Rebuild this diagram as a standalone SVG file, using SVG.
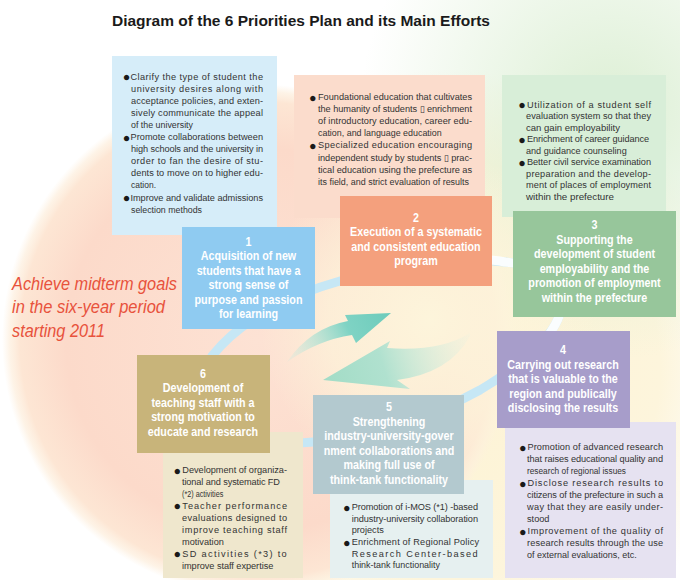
<svg xmlns="http://www.w3.org/2000/svg" width="680" height="580" viewBox="0 0 680 580">
<defs>
<style>
.h{font-family:"Liberation Sans",Arial,sans-serif;font-weight:bold;font-size:12px;fill:#fff;text-anchor:middle}
.d{font-family:"Liberation Sans",Arial,sans-serif;font-size:9.2px;fill:#333}
.b{font-family:"Liberation Sans","DejaVu Sans",sans-serif;font-size:12.5px;fill:#1a1a1a;text-anchor:middle}
.goal{font-family:"Liberation Sans",Arial,sans-serif;font-style:italic;font-size:18.5px;fill:#e8523c}
.title{font-family:"Liberation Sans",Arial,sans-serif;font-weight:bold;font-size:15.5px;fill:#1a1a1a}
</style>
<radialGradient id="peach" cx="258" cy="340" r="256" gradientUnits="userSpaceOnUse">
<stop offset="0" stop-color="#fde2d4"/>
<stop offset="0.75" stop-color="#fcdaca"/>
<stop offset="0.93" stop-color="#fde6d4"/>
<stop offset="0.97" stop-color="#fdeedc" stop-opacity="0.7"/>
<stop offset="1" stop-color="#fdf0df" stop-opacity="0"/>
</radialGradient>
<radialGradient id="green" cx="610" cy="110" r="250" gradientUnits="userSpaceOnUse">
<stop offset="0" stop-color="#dcefd4"/>
<stop offset="1" stop-color="#dcefd4" stop-opacity="0"/>
</radialGradient>
<radialGradient id="yellow" cx="450" cy="370" r="300" gradientUnits="userSpaceOnUse">
<stop offset="0" stop-color="#fdf3d3"/>
<stop offset="0.7" stop-color="#fdf5dc"/>
<stop offset="1" stop-color="#fdf5dc" stop-opacity="0"/>
</radialGradient>
<radialGradient id="glow" cx="430" cy="320" r="170" gradientUnits="userSpaceOnUse">
<stop offset="0" stop-color="#fdf6dc" stop-opacity="0.95"/>
<stop offset="0.6" stop-color="#fdf4da" stop-opacity="0.7"/>
<stop offset="1" stop-color="#fdf4da" stop-opacity="0"/>
</radialGradient>
<linearGradient id="teal" x1="287" y1="362" x2="392" y2="313" gradientUnits="userSpaceOnUse">
<stop offset="0" stop-color="#c9ece3" stop-opacity="0.2"/>
<stop offset="0.6" stop-color="#7fd3c4"/>
<stop offset="1" stop-color="#6ccbbb"/>
</linearGradient>
<linearGradient id="mint" x1="470" y1="335" x2="323" y2="380" gradientUnits="userSpaceOnUse">
<stop offset="0" stop-color="#d8f0e4" stop-opacity="0.1"/>
<stop offset="0.6" stop-color="#b0e1cf"/>
<stop offset="1" stop-color="#a2dcc6"/>
</linearGradient>
</defs>

<g id="background">
<rect x="0" y="0" width="680" height="580" fill="#ffffff"/>
<rect x="0" y="0" width="680" height="580" fill="url(#yellow)"/>
<rect x="0" y="0" width="680" height="580" fill="url(#green)"/>
<circle cx="258" cy="340" r="256" fill="url(#peach)"/>
<circle cx="430" cy="320" r="170" fill="url(#glow)"/>
</g>

<g id="title">
<text class="title" x="112" y="26" textLength="378" lengthAdjust="spacingAndGlyphs">Diagram of the 6 Priorities Plan and its Main Efforts</text>
</g>

<g id="goal">
<text class="goal" x="12" y="289.5" textLength="165" lengthAdjust="spacingAndGlyphs">Achieve midterm goals</text>
<text class="goal" x="12" y="313" textLength="153" lengthAdjust="spacingAndGlyphs">in the six-year period</text>
<text class="goal" x="12" y="336.5" textLength="93" lengthAdjust="spacingAndGlyphs">starting 2011</text>
</g>

<g id="connectors">
<path d="M212,356 C240,320 290,295 340,281 C400,264 470,258 505,262 C545,266 575,290 555,325 C540,350 510,372 480,390 C430,418 360,440 300,443 C240,446 190,400 212,356 Z" fill="none" stroke="#c6e7f5" stroke-width="9"/>
<path d="M450,261 C475,259 492,259 505,262 C545,266 575,290 555,325 C551,332 547,338 542,344" fill="none" stroke="#ffffff" stroke-opacity="0.9" stroke-width="9"/>
<path d="M287,362 Q310,328 348,321 L345,315 L391,313 L356,343 L352,335 Q318,340 287,362 Z" fill="url(#teal)"/>
<path d="M470,333 Q440,352 387,348 L390,341 L323,380 L410,389 L397,380 Q450,373 470,336 Z" fill="url(#mint)"/>
</g>

<g id="node1">
<rect x="112" y="56" width="165" height="179" fill="#d6edf9"/>
<text class="b" x="126.5" y="81">●</text>
<text class="d" x="130.5" y="79.5" textLength="132.5" lengthAdjust="spacing">Clarify the type of student the</text>
<text class="d" x="131" y="91.6" textLength="132" lengthAdjust="spacing">university desires along with</text>
<text class="d" x="131" y="103.7" textLength="132" lengthAdjust="spacing">acceptance policies, and exten-</text>
<text class="d" x="131" y="115.8" textLength="132" lengthAdjust="spacing">sively communicate the appeal</text>
<text class="d" x="131" y="127.9" textLength="62" lengthAdjust="spacingAndGlyphs">of the university</text>
<text class="b" x="126.5" y="141.5">●</text>
<text class="d" x="130.5" y="140" textLength="132.5" lengthAdjust="spacing">Promote collaborations between</text>
<text class="d" x="131" y="152.1" textLength="132" lengthAdjust="spacing">high schools and the university in</text>
<text class="d" x="131" y="164.2" textLength="132" lengthAdjust="spacing">order to fan the desire of stu-</text>
<text class="d" x="131" y="176.3" textLength="132" lengthAdjust="spacing">dents to move on to higher edu-</text>
<text class="d" x="131" y="188.4" textLength="25" lengthAdjust="spacingAndGlyphs">cation.</text>
<text class="b" x="126.5" y="202">●</text>
<text class="d" x="130.5" y="200.5" textLength="132.5" lengthAdjust="spacing">Improve and validate admissions</text>
<text class="d" x="131" y="212.6" textLength="71" lengthAdjust="spacingAndGlyphs">selection methods</text>
<rect x="182" y="227" width="133" height="102" fill="#8fcbf1"/>
<g transform="translate(248.5 0) scale(0.895 1)">
<text class="h" x="0" y="246">1</text>
<text class="h" x="0" y="260.5">Acquisition of new</text>
<text class="h" x="0" y="275">students that have a</text>
<text class="h" x="0" y="289.5">strong sense of</text>
<text class="h" x="0" y="304">purpose and passion</text>
<text class="h" x="0" y="318.5">for learning</text>
</g>
</g>

<g id="node2">
<rect x="294" y="75" width="191" height="143" fill="#fbdccc"/>
<text class="b" x="312.7" y="101.5">●</text>
<text class="d" x="318" y="100" textLength="154" lengthAdjust="spacing">Foundational education that cultivates</text>
<text class="d" x="318" y="112.1" textLength="154" lengthAdjust="spacing">the humanity of students ▯ enrichment</text>
<text class="d" x="318" y="124.2" textLength="154" lengthAdjust="spacing">of introductory education, career edu-</text>
<text class="d" x="318" y="136.3" textLength="123.7" lengthAdjust="spacingAndGlyphs">cation, and language education</text>
<text class="b" x="312.7" y="149.9">●</text>
<text class="d" x="318" y="148.4" textLength="154" lengthAdjust="spacing">Specialized education encouraging</text>
<text class="d" x="318" y="160.5" textLength="154" lengthAdjust="spacing">independent study by students ▯ prac-</text>
<text class="d" x="318" y="172.6" textLength="154" lengthAdjust="spacing">tical education using the prefecture as</text>
<text class="d" x="318" y="184.7" textLength="151" lengthAdjust="spacingAndGlyphs">its field, and strict evaluation of results</text>
<rect x="340" y="196" width="152" height="90" fill="#f4a07d"/>
<g transform="translate(416 0) scale(0.895 1)">
<text class="h" x="0" y="222">2</text>
<text class="h" x="0" y="236.5">Execution of a systematic</text>
<text class="h" x="0" y="251">and consistent education</text>
<text class="h" x="0" y="265.5">program</text>
</g>
</g>

<g id="node3">
<rect x="502" y="75" width="164" height="142" fill="#d8eed8"/>
<text class="b" x="522" y="109.1">●</text>
<text class="d" x="527" y="107.6" textLength="124" lengthAdjust="spacing">Utilization of a student self</text>
<text class="d" x="526" y="119.1" textLength="125" lengthAdjust="spacing">evaluation system so that they</text>
<text class="d" x="526" y="130.6" textLength="94" lengthAdjust="spacingAndGlyphs">can gain employability</text>
<text class="b" x="522" y="143.6">●</text>
<text class="d" x="527" y="142.1" textLength="122" lengthAdjust="spacing">Enrichment of career guidance</text>
<text class="d" x="526" y="153.6" textLength="100.7" lengthAdjust="spacingAndGlyphs">and guidance counseling</text>
<text class="b" x="522" y="166.6">●</text>
<text class="d" x="527" y="165.1" textLength="124" lengthAdjust="spacing">Better civil service examination</text>
<text class="d" x="526" y="176.6" textLength="125" lengthAdjust="spacing">preparation and the develop-</text>
<text class="d" x="526" y="188.1" textLength="125" lengthAdjust="spacing">ment of places of employment</text>
<text class="d" x="526" y="199.6" textLength="88" lengthAdjust="spacingAndGlyphs">within the prefecture</text>
<rect x="513" y="211" width="163" height="106" fill="#97c69b"/>
<g transform="translate(594.5 0) scale(0.895 1)">
<text class="h" x="0" y="229.5">3</text>
<text class="h" x="0" y="244">Supporting the</text>
<text class="h" x="0" y="258.5">development of student</text>
<text class="h" x="0" y="273">employability and the</text>
<text class="h" x="0" y="287.5">promotion of employment</text>
<text class="h" x="0" y="302">within the prefecture</text>
</g>
</g>

<g id="node4">
<rect x="505" y="422" width="171" height="156" fill="#e6e2f1"/>
<text class="b" x="522.7" y="451.5">●</text>
<text class="d" x="527.5" y="450" textLength="135.5" lengthAdjust="spacing">Promotion of advanced research</text>
<text class="d" x="527" y="462" textLength="136" lengthAdjust="spacing">that raises educational quality and</text>
<text class="d" x="527" y="474.1" textLength="99" lengthAdjust="spacingAndGlyphs">research of regional issues</text>
<text class="b" x="522.7" y="487.6">●</text>
<text class="d" x="527.5" y="486.1" textLength="135.5" lengthAdjust="spacing">Disclose research results to</text>
<text class="d" x="527" y="498.2" textLength="136" lengthAdjust="spacing">citizens of the prefecture in such a</text>
<text class="d" x="527" y="510.2" textLength="136" lengthAdjust="spacing">way that they are easily under-</text>
<text class="d" x="527" y="522.2">stood</text>
<text class="b" x="522.7" y="535.8">●</text>
<text class="d" x="527.5" y="534.3" textLength="135.5" lengthAdjust="spacing">Improvement of the quality of</text>
<text class="d" x="527" y="546.3" textLength="136" lengthAdjust="spacing">research results through the use</text>
<text class="d" x="527" y="558.4" textLength="109.7" lengthAdjust="spacingAndGlyphs">of external evaluations, etc.</text>
<rect x="497" y="331" width="133" height="97" fill="#a79dca"/>
<g transform="translate(563 0) scale(0.895 1)">
<text class="h" x="0" y="354.5">4</text>
<text class="h" x="0" y="369">Carrying out research</text>
<text class="h" x="0" y="383.5">that is valuable to the</text>
<text class="h" x="0" y="398">region and publically</text>
<text class="h" x="0" y="412.5">disclosing the results</text>
</g>
</g>

<g id="node5">
<rect x="330" y="480" width="163" height="98" fill="#e6f0f0"/>
<text class="b" x="346.7" y="511.5">●</text>
<text class="d" x="351.7" y="510" textLength="126.3" lengthAdjust="spacing">Promotion of i-MOS (*1) -based</text>
<text class="d" x="351.7" y="521.7" textLength="126.3" lengthAdjust="spacing">industry-university collaboration</text>
<text class="d" x="351.7" y="533.3">projects</text>
<text class="b" x="346.7" y="546.5">●</text>
<text class="d" x="351.7" y="545" textLength="127.3" lengthAdjust="spacing">Enrichment of Regional Policy</text>
<text class="d" x="351.7" y="556.7" textLength="126" lengthAdjust="spacing">Research Center-based</text>
<text class="d" x="351.7" y="568.3" textLength="88.3" lengthAdjust="spacingAndGlyphs">think-tank functionality</text>
<rect x="313" y="395" width="151" height="99" fill="#b3c9cf"/>
<g transform="translate(389 0) scale(0.895 1)">
<text class="h" x="0" y="411">5</text>
<text class="h" x="0" y="426">Strengthening</text>
<text class="h" x="0" y="440.5">industry-university-gover</text>
<text class="h" x="0" y="455">nment collaborations and</text>
<text class="h" x="0" y="469.5">making full use of</text>
<text class="h" x="0" y="484">think-tank functionality</text>
</g>
</g>

<g id="node6">
<rect x="163" y="432" width="140" height="146" fill="#efe7cd"/>
<text class="b" x="177.3" y="474.5">●</text>
<text class="d" x="182.3" y="473" textLength="104.7" lengthAdjust="spacing">Development of organiza-</text>
<text class="d" x="182" y="485" textLength="98" lengthAdjust="spacing">tional and systematic FD</text>
<text class="d" x="182" y="496.9" textLength="41.3" lengthAdjust="spacingAndGlyphs">(*2) activities</text>
<text class="b" x="177.3" y="510.4">●</text>
<text class="d" x="182.3" y="508.9" textLength="104.7" lengthAdjust="spacing">Teacher performance</text>
<text class="d" x="182" y="520.8" textLength="105" lengthAdjust="spacing">evaluations designed to</text>
<text class="d" x="182" y="532.8" textLength="105" lengthAdjust="spacing">improve teaching staff</text>
<text class="d" x="182" y="544.7">motivation</text>
<text class="b" x="177.3" y="558.2">●</text>
<text class="d" x="182.3" y="556.7" textLength="104.4" lengthAdjust="spacing">SD activities (*3) to</text>
<text class="d" x="182" y="568.6" textLength="91.3" lengthAdjust="spacing">improve staff expertise</text>
<rect x="137" y="355" width="133" height="98" fill="#c8b47a"/>
<g transform="translate(203 0) scale(0.895 1)">
<text class="h" x="0" y="378">6</text>
<text class="h" x="0" y="392.5">Development of</text>
<text class="h" x="0" y="407">teaching staff with a</text>
<text class="h" x="0" y="421.5">strong motivation to</text>
<text class="h" x="0" y="436">educate and research</text>
</g>
</g>
</svg>
